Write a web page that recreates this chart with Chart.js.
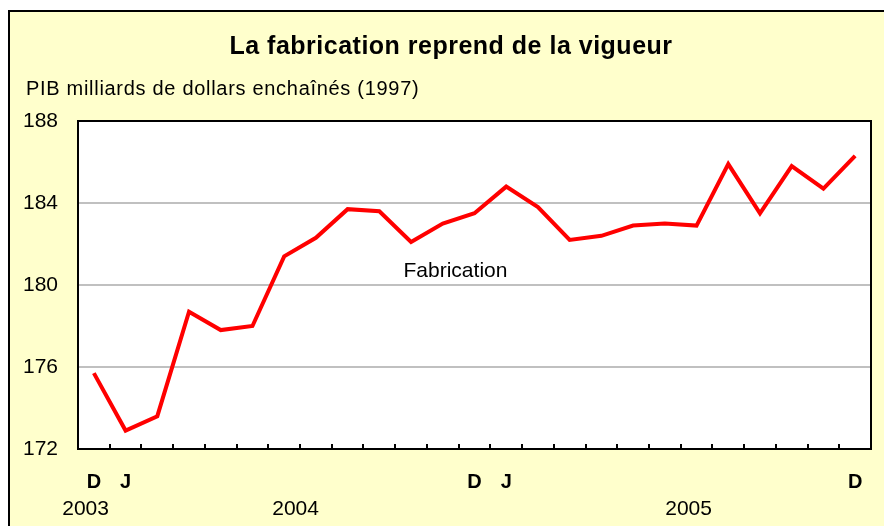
<!DOCTYPE html>
<html>
<head>
<meta charset="utf-8">
<script src="https://cdn.jsdelivr.net/npm/chart.js@4/dist/chart.umd.min.js"></script>
<style>
html, body { margin: 0; padding: 0; background: #ffffff; }
canvas { display: block; }
</style>
</head>
<body>
<canvas id="c" width="884" height="526"></canvas>
<script>
// Monthly categories, December 2003 to December 2005
const months = ['D','J','F','M','A','M','J','J','A','S','O','N','D','J','F','M','A','M','J','J','A','S','O','N','D'];
// Tick labels shown under the axis
const tickLabels = ['D','J','','','','','','','','','','','D','J','','','','','','','','','','','D'];
// Year labels under the axis
const yearLabels = ['2003','2004','2005'];
// GDP, manufacturing (billions of chained 1997 dollars)
const fabrication = [175.7,172.9,173.6,178.7,177.8,178.0,181.4,182.3,183.7,183.6,182.1,183.0,183.5,184.8,183.8,182.2,182.4,182.9,183.0,182.9,185.9,183.5,185.8,184.7,186.3];
// Y axis ticks
const yTicks = [172,176,180,184,188];

const FONT = "'Liberation Sans', Arial, sans-serif";

const decor = {
  id: 'decor',
  beforeDraw(chart) {
    const ctx = chart.ctx, a = chart.chartArea;
    ctx.save();
    ctx.fillStyle = '#ffffff';
    ctx.fillRect(0, 0, chart.width, chart.height);
    ctx.fillStyle = '#FFFFCC';
    ctx.fillRect(8, 10, chart.width - 8, chart.height - 10);
    ctx.strokeStyle = '#000000';
    ctx.lineWidth = 2;
    ctx.beginPath();
    ctx.moveTo(9, chart.height);
    ctx.lineTo(9, 11);
    ctx.lineTo(chart.width, 11);
    ctx.stroke();
    ctx.fillStyle = '#ffffff';
    ctx.fillRect(a.left, a.top, a.right - a.left, a.bottom - a.top);
    ctx.restore();
  },
  afterDraw(chart, args, opts) {
    const ctx = chart.ctx, a = chart.chartArea;
    const xs = chart.scales.x, ys = chart.scales.y;
    ctx.save();
    // frame
    ctx.strokeStyle = '#000000';
    ctx.lineWidth = 2;
    ctx.strokeRect(a.left, a.top, a.right - a.left, a.bottom - a.top);
    // inner tick marks between months
    ctx.lineWidth = 2;
    ctx.beginPath();
    for (let i = 0; i < months.length - 1; i++) {
      const x = Math.round(xs.getPixelForValue(i + 0.5));
      ctx.moveTo(x, a.bottom);
      ctx.lineTo(x, a.bottom - 5);
    }
    ctx.stroke();
    // year labels
    ctx.fillStyle = '#000000';
    ctx.font = '21px ' + FONT;
    ctx.textAlign = 'center';
    ctx.textBaseline = 'alphabetic';
    yearLabels.forEach((t, k) => {
      ctx.fillText(t, xs.getPixelForValue(opts.yearPos[k]), 515);
    });
    // series label
    ctx.fillText('Fabrication', xs.getPixelForValue(opts.seriesLabelAt[0]), ys.getPixelForValue(opts.seriesLabelAt[1]) + 8);
    // title
    ctx.font = 'bold 25px ' + FONT;
    ctx.letterSpacing = '0.5px';
    ctx.fillText('La fabrication reprend de la vigueur', 451, 54);
    // subtitle
    ctx.font = '20px ' + FONT;
    ctx.letterSpacing = '0.7px';
    ctx.textAlign = 'left';
    ctx.fillText('PIB milliards de dollars enchaînés (1997)', 26, 95);
    ctx.restore();
  }
};

new Chart(document.getElementById('c'), {
  type: 'line',
  data: {
    labels: months,
    datasets: [{
      label: 'Fabrication',
      data: fabrication,
      borderColor: '#FF0000',
      borderWidth: 4,
      pointRadius: 0,
      tension: 0,
      fill: false
    }]
  },
  options: {
    responsive: false,
    devicePixelRatio: 1,
    animation: false,
    layout: { padding: { top: 121, right: 13, left: 0, bottom: 0 } },
    plugins: {
      legend: { display: false },
      title: { display: false },
      tooltip: { enabled: false },
      decor: { yearPos: [-0.26, 6.36, 18.75], seriesLabelAt: [11.4, 180.8] }
    },
    scales: {
      x: {
        type: 'category',
        offset: true,
        grid: { display: false, drawTicks: false },
        border: { display: false },
        ticks: {
          autoSkip: false,
          maxRotation: 0,
          minRotation: 0,
          padding: 21,
          color: '#000000',
          font: { family: FONT, size: 20, weight: 'bold' },
          callback: (v, i) => tickLabels[i]
        },
        afterFit: (s) => { s.height = 77; }
      },
      y: {
        min: yTicks[0],
        max: yTicks[yTicks.length - 1],
        afterBuildTicks: (s) => { s.ticks = yTicks.map(v => ({ value: v })); },
        grid: { color: '#C0C0C0', lineWidth: 2, drawTicks: false },
        border: { display: false },
        ticks: {
          padding: 20,
          color: '#000000',
          font: { family: FONT, size: 21 }
        },
        afterFit: (s) => { s.width = 78; }
      }
    }
  },
  plugins: [decor]
});
</script>
</body>
</html>
